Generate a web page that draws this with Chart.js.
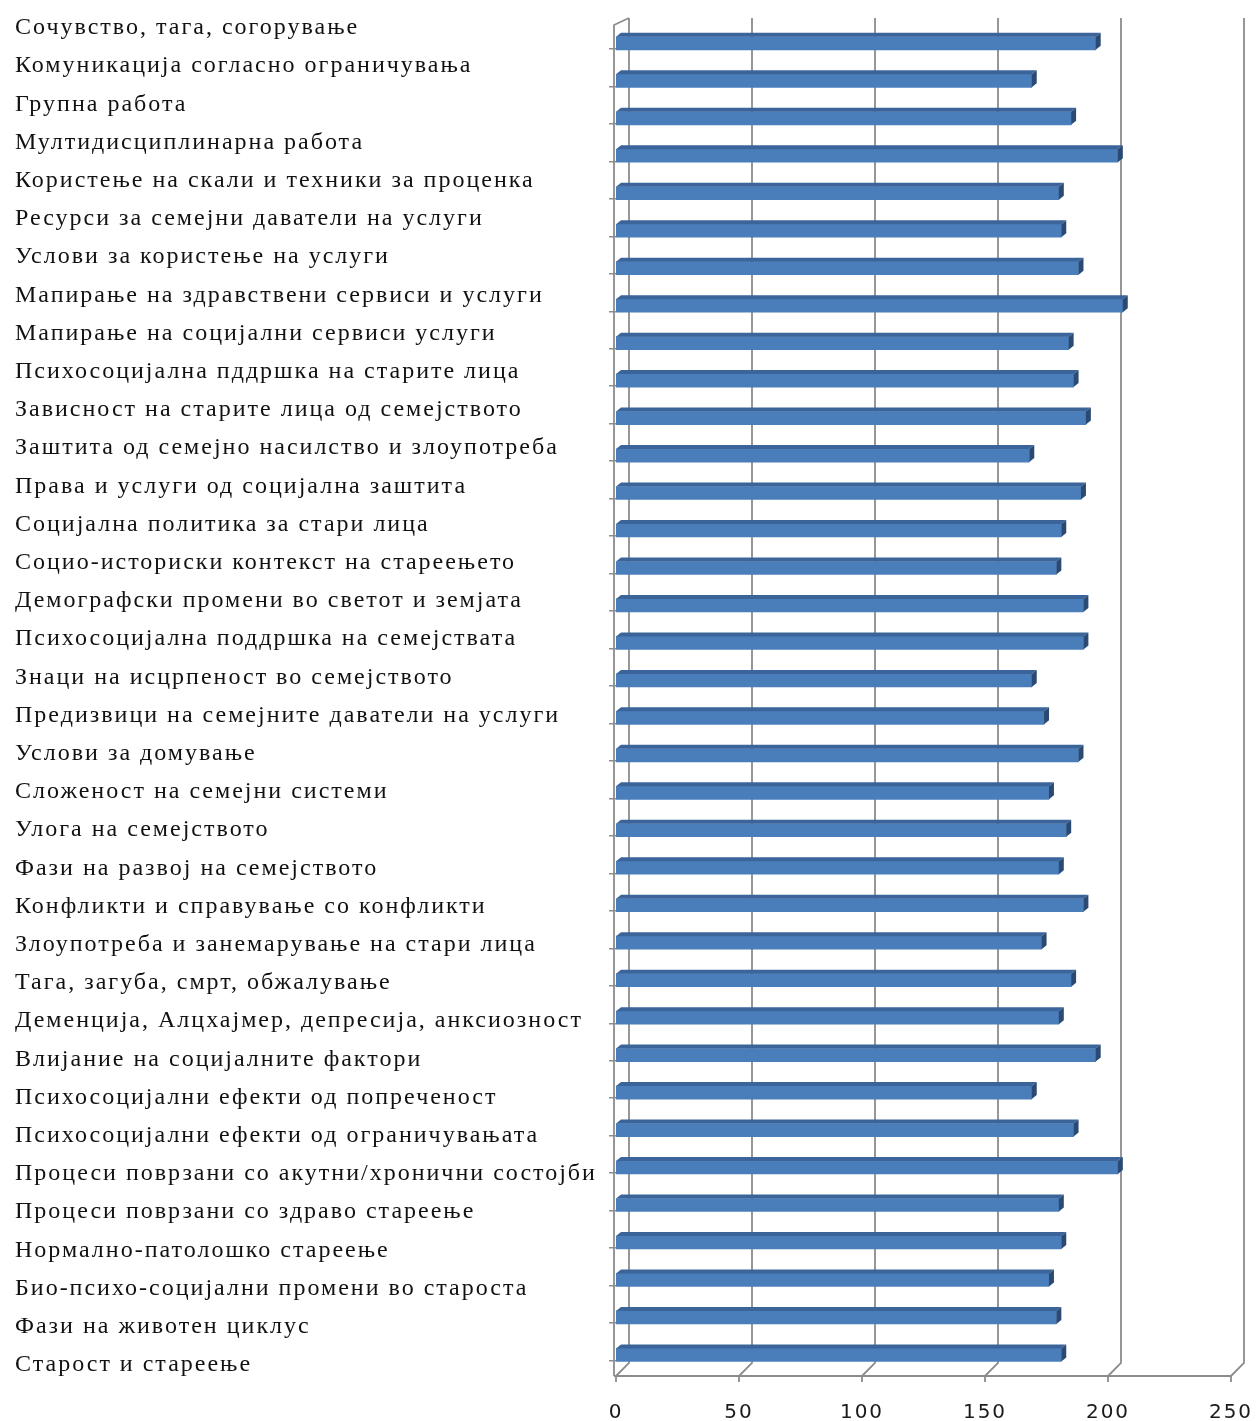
<!DOCTYPE html>
<html>
<head>
<meta charset="utf-8">
<script src="https://cdn.jsdelivr.net/npm/chart.js@4.4.1/dist/chart.umd.min.js"></script>
<style>
  html, body { margin: 0; padding: 0; background: #fff; }
</style>
</head>
<body>
<canvas id="teme" width="1256" height="1421"></canvas>
<script>
const labels = [
  "Сочувство, тага, согорување",
  "Комуникација согласно ограничувања",
  "Групна работа",
  "Мултидисциплинарна работа",
  "Користење на скали и техники за проценка",
  "Ресурси за семејни даватели на услуги",
  "Услови за користење на услуги",
  "Мапирање на здравствени сервиси и услуги",
  "Мапирање на социјални сервиси услуги",
  "Психосоцијална пддршка на старите лица",
  "Зависност на старите лица од семејството",
  "Заштита од семејно насилство и злоупотреба",
  "Права и услуги од социјална заштита",
  "Социјална политика за стари лица",
  "Социо-историски контекст на стареењето",
  "Демографски промени во светот и земјата",
  "Психосоцијална поддршка на семејствата",
  "Знаци на исцрпеност во семејството",
  "Предизвици на семејните даватели на услуги",
  "Услови за домување",
  "Сложеност на семејни системи",
  "Улога на семејството",
  "Фази на развој на семејството",
  "Конфликти и справување со конфликти",
  "Злоупотреба и занемарување на стари лица",
  "Тага, загуба, смрт, обжалување",
  "Деменција, Алцхајмер, депресија, анксиозност",
  "Влијание на социјалните фактори",
  "Психосоцијални ефекти од попреченост",
  "Психосоцијални ефекти од ограничувањата",
  "Процеси поврзани со акутни/хронични состојби",
  "Процеси поврзани со здраво стареење",
  "Нормално-патолошко стареење",
  "Био-психо-социјални промени во староста",
  "Фази на животен циклус",
  "Старост и стареење",
];

const values = [
  195, 169, 185, 204, 180, 181, 188, 206, 184, 186, 191, 168,
  189, 181, 179, 190, 190, 169, 174, 188, 176, 183, 180, 190,
  173, 185, 180, 195, 169, 186, 204, 180, 181, 176, 179, 181,
];

const xTicks = [0, 50, 100, 150, 200, 250];

// wide spacing between letters, like the stretched Excel text
const spacing = {
  id: "spacing",
  beforeUpdate(chart) { chart.ctx.letterSpacing = "2px"; },
  beforeDraw(chart) { chart.ctx.letterSpacing = "2px"; },
};

// back wall, floor and left edge of the 3-D box
const frame = {
  id: "frame",
  beforeDatasetsDraw(chart) {
    const { ctx, chartArea: a, scales } = chart;
    const x = scales.x;
    const dx = 13;
    const top = a.top - 10;
    const back = a.bottom - 2;
    const floor = a.bottom + 11;
    ctx.save();
    ctx.strokeStyle = "#8c8c8c";
    ctx.lineWidth = 1.8;
    ctx.beginPath();
    xTicks.forEach((v) => {
      const px = x.getPixelForValue(v);
      ctx.moveTo(px + dx, top);
      ctx.lineTo(px + dx, back);
      ctx.lineTo(px, floor);
      ctx.moveTo(px, floor);
      ctx.lineTo(px, floor + 6);
    });
    // floor front edge
    ctx.moveTo(a.left - 2, floor);
    ctx.lineTo(x.getPixelForValue(xTicks[xTicks.length - 1]), floor);
    // left edge
    ctx.moveTo(a.left - 2, floor);
    ctx.lineTo(a.left - 2, a.top - 3);
    ctx.lineTo(x.getPixelForValue(0) + dx, top);
    ctx.stroke();
    ctx.restore();
  },
};

// top and end faces of the bars
const depth = {
  id: "depth",
  afterDatasetsDraw(chart) {
    const { ctx } = chart;
    const dx = 5, dy = 4;
    ctx.save();
    chart.getDatasetMeta(0).data.forEach((bar) => {
      const { x, y, base, height } = bar.getProps(["x", "y", "base", "height"], true);
      const t = y - height / 2;
      const b = y + height / 2;
      ctx.fillStyle = "#3b659a";
      ctx.beginPath();
      ctx.moveTo(base, t);
      ctx.lineTo(x, t);
      ctx.lineTo(x + dx, t - dy);
      ctx.lineTo(base + dx, t - dy);
      ctx.closePath();
      ctx.fill();
      ctx.fillStyle = "#2a4a74";
      ctx.beginPath();
      ctx.moveTo(x, t);
      ctx.lineTo(x + dx, t - dy);
      ctx.lineTo(x + dx, b - dy);
      ctx.lineTo(x, b);
      ctx.closePath();
      ctx.fill();
    });
    ctx.restore();
  },
};

const ctx = document.getElementById("teme");
new Chart(ctx, {
  type: "bar",
  data: {
    labels: labels,
    datasets: [
      {
        data: values.map((v, i) => ({ x: v, y: i })),
        yAxisID: "bars",
        backgroundColor: "#4a7ebb",
        barThickness: 13,
      },
    ],
  },
  plugins: [spacing, frame, depth],
  options: {
    responsive: false,
    animation: false,
    indexAxis: "y",
    layout: {
      padding: { left: 15, right: 25, top: 28, bottom: 0 },
    },
    plugins: {
      legend: { display: false },
      tooltip: { enabled: false },
    },
    scales: {
      x: {
        type: "linear",
        position: "bottom",
        min: 0,
        max: 250,
        grid: { display: false },
        border: { display: false },
        afterBuildTicks(s) {
          s.ticks = xTicks.map((v) => ({ value: v }));
        },
        ticks: {
          color: "#1a1a1a",
          padding: 28,
          font: { family: "DejaVu Sans", size: 20 },
        },
        afterFit(s) {
          s.height = 56;
          s.paddingLeft = 0;
          s.paddingRight = 0;
        },
      },
      y: {
        type: "category",
        position: "left",
        offset: false,
        weight: 1,
        grid: { display: false },
        border: { display: false },
        ticks: {
          crossAlign: "far",
          autoSkip: false,
          padding: 0,
          color: "#111",
          font: { family: "Liberation Serif", size: 24 },
        },
        afterFit(s) {
          s.width = 593;
        },
      },
      bars: {
        type: "linear",
        position: "left",
        reverse: true,
        offset: false,
        min: -0.41,
        max: 35.27,
        weight: 0,
        border: { display: false },
        grid: {
          drawOnChartArea: false,
          tickLength: 7,
          color: "#8c8c8c",
          lineWidth: 1.5,
        },
        afterBuildTicks(s) {
          s.ticks = labels.map((_, i) => ({ value: i - 0.35 }));
        },
        ticks: { display: false },
        afterFit(s) {
          s.width = 8;
        },
      },
    },
  },
});
</script>
</body>
</html>
